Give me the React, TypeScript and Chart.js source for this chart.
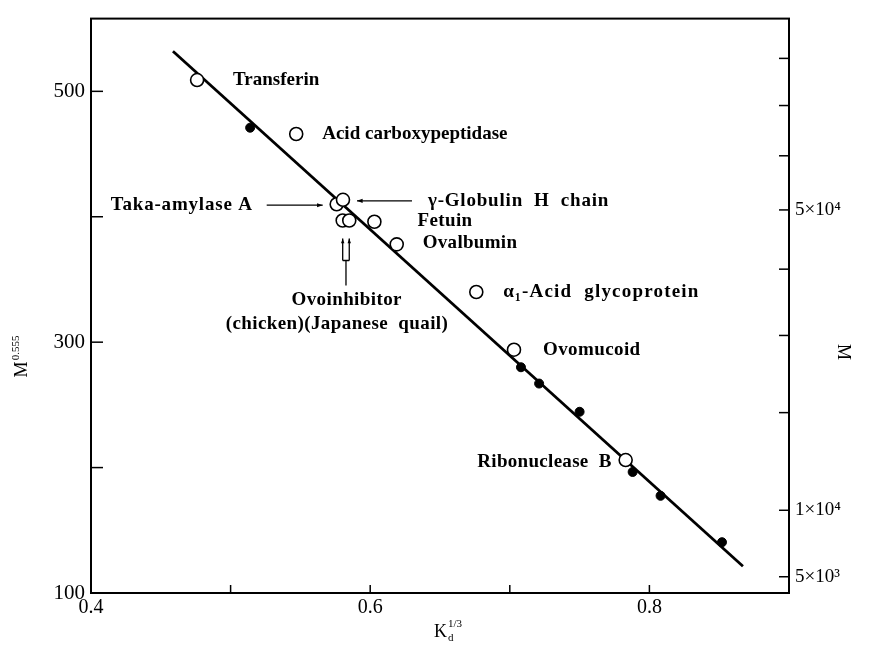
import React, { useEffect, useRef } from 'react';
import { Chart, registerables } from 'chart.js';

Chart.register(...registerables);

// ---- data (Kd^1/3 on x, M^0.555 on y) ----
const openNames = [
  'Transferin',
  'Acid carboxypeptidase',
  'Taka-amylase A',
  'γ-Globulin H chain',
  'Ovoinhibitor (chicken)',
  'Ovoinhibitor (Japanese quail)',
  'Fetuin',
  'Ovalbumin',
  'α1-Acid glycoprotein',
  'Ovomucoid',
  'Ribonuclease B',
];
const openKd = [0.476, 0.547, 0.576, 0.5805, 0.5803, 0.585, 0.603, 0.619, 0.676, 0.703, 0.783];
const openM = [509, 466, 410, 413.5, 397, 397, 396, 378, 340, 294, 206];

const filledKd = [0.514, 0.708, 0.721, 0.75, 0.788, 0.808, 0.852];
const filledM = [471, 280, 267, 244.5, 196.5, 177.5, 140.5];

const fitKd = [0.4587, 0.867];
const fitM = [532, 121.3];

const xTickValues = [0.4, 0.6, 0.8];
const xTickMarks = [0.5, 0.6, 0.7, 0.8];
const yTickValues = [100, 300, 500];
const yTickMarks = [200, 300, 400, 500];

const EXPONENT = 0.555;
const rightLabelM = [5000, 10000, 50000];
const rightLabels = ['5×10³', '1×10⁴', '5×10⁴'];
const rightMarkM = [5000, 10000, 20000, 30000, 40000, 50000, 60000, 70000, 80000];

// ---- annotation texts, anchored to open-circle index ----
type Ann = { text: string; idx: number; dx: number; dy: number; align: CanvasTextAlign; ls: number };
const annotations: Ann[] = [
  { text: 'Transferin', idx: 0, dx: 36, dy: 0, align: 'left', ls: 0 },
  { text: 'Acid carboxypeptidase', idx: 1, dx: 26, dy: 0, align: 'left', ls: 0 },
  { text: 'Taka-amylase A', idx: 2, dx: -84, dy: 1, align: 'right', ls: 0.8 },
  { text: 'γ-Globulin  H  chain', idx: 3, dx: 85, dy: 1, align: 'left', ls: 0.8 },
  { text: 'Fetuin', idx: 6, dx: 43, dy: -1, align: 'left', ls: 0.4 },
  { text: 'Ovalbumin', idx: 7, dx: 26, dy: -1, align: 'left', ls: 0.3 },
  { text: 'α₁-Acid  glycoprotein', idx: 8, dx: 27, dy: 0, align: 'left', ls: 1.2 },
  { text: 'Ovomucoid', idx: 9, dx: 29, dy: 0, align: 'left', ls: 0.4 },
  { text: 'Ribonuclease  B', idx: 10, dx: -14, dy: 2, align: 'right', ls: 0.3 },
  { text: 'Ovoinhibitor', idx: 4, dx: 4, dy: 80, align: 'center', ls: 0.4 },
  { text: '(chicken)(Japanese  quail)', idx: 4, dx: -117, dy: 104, align: 'left', ls: 0.4 },
];

const SERIF = "'Liberation Serif', 'DejaVu Serif', serif";

function arrow(ctx: CanvasRenderingContext2D, x1: number, y1: number, x2: number, y2: number, head = 6) {
  ctx.beginPath();
  ctx.moveTo(x1, y1);
  ctx.lineTo(x2, y2);
  ctx.stroke();
  const a = Math.atan2(y2 - y1, x2 - x1);
  ctx.beginPath();
  ctx.moveTo(x2, y2);
  ctx.lineTo(x2 - head * Math.cos(a - 0.35), y2 - head * Math.sin(a - 0.35));
  ctx.lineTo(x2 - head * Math.cos(a + 0.35), y2 - head * Math.sin(a + 0.35));
  ctx.closePath();
  ctx.fill();
}

const overlay = {
  id: 'overlay',
  afterDraw(chart: any) {
    const ctx: any = chart.ctx;
    const { left, right, top, bottom } = chart.chartArea;
    const xs = chart.scales.x;
    const ys = chart.scales.y;
    ctx.save();
    ctx.strokeStyle = '#000';
    ctx.fillStyle = '#000';

    // frame
    ctx.lineWidth = 2;
    ctx.strokeRect(left, top, right - left, bottom - top);

    // inward ticks
    ctx.lineWidth = 1.5;
    yTickMarks.forEach((v) => {
      const y = ys.getPixelForValue(v);
      ctx.beginPath();
      ctx.moveTo(left, y);
      ctx.lineTo(left + 12, y);
      ctx.stroke();
    });
    xTickMarks.forEach((v) => {
      const x = xs.getPixelForValue(v);
      ctx.beginPath();
      ctx.moveTo(x, bottom);
      ctx.lineTo(x, bottom - 8);
      ctx.stroke();
    });
    rightMarkM.forEach((m) => {
      const y = ys.getPixelForValue(Math.pow(m, EXPONENT));
      ctx.beginPath();
      ctx.moveTo(right, y);
      ctx.lineTo(right - 10, y);
      ctx.stroke();
    });

    // annotations
    ctx.font = `bold 19px ${SERIF}`;
    ctx.textBaseline = 'middle';
    const px = (i: number) => xs.getPixelForValue(openKd[i]);
    const py = (i: number) => ys.getPixelForValue(openM[i]);
    annotations.forEach((a) => {
      ctx.letterSpacing = `${a.ls}px`;
      ctx.textAlign = a.align;
      ctx.fillText(a.text, px(a.idx) + a.dx, py(a.idx) + a.dy);
    });
    ctx.letterSpacing = '0px';

    // arrows
    ctx.lineWidth = 1.3;
    arrow(ctx, px(2) - 70, py(2) + 1, px(2) - 14, py(2) + 1);
    arrow(ctx, px(3) + 69, py(3) + 1, px(3) + 14, py(3) + 1);
    const cx = px(4), qx = px(5), cy = py(4);
    const mid = (cx + qx) / 2;
    arrow(ctx, cx, cy + 40, cx, cy + 18, 5);
    arrow(ctx, qx, cy + 40, qx, cy + 18, 5);
    ctx.beginPath();
    ctx.moveTo(cx, cy + 40);
    ctx.lineTo(qx, cy + 40);
    ctx.moveTo(mid, cy + 40);
    ctx.lineTo(mid, cy + 65);
    ctx.stroke();

    // axis titles
    ctx.textAlign = 'left';
    ctx.textBaseline = 'alphabetic';
    // left: M^0.555
    ctx.save();
    ctx.translate(27, 357);
    ctx.rotate(-Math.PI / 2);
    ctx.font = `18px ${SERIF}`;
    const wM = ctx.measureText('M').width;
    ctx.font = `11px ${SERIF}`;
    const wE = ctx.measureText('0.555').width;
    const start = -(wM + wE) / 2;
    ctx.font = `18px ${SERIF}`;
    ctx.fillText('M', start, 0);
    ctx.font = `11px ${SERIF}`;
    ctx.fillText('0.555', start + wM + 1, -8);
    ctx.restore();

    // right: M
    ctx.save();
    ctx.translate(838, 352);
    ctx.rotate(Math.PI / 2);
    ctx.font = `18px ${SERIF}`;
    ctx.textAlign = 'center';
    ctx.fillText('M', 0, 0);
    ctx.restore();

    // bottom: Kd^1/3
    ctx.font = `18px ${SERIF}`;
    const wK = ctx.measureText('K').width;
    const kx = 434;
    ctx.fillText('K', kx, 637);
    ctx.font = `11px ${SERIF}`;
    ctx.fillText('d', kx + wK + 1, 641);
    ctx.fillText('1/3', kx + wK + 1, 627);

    ctx.restore();
  },
};

export default function App() {
  const ref = useRef<HTMLCanvasElement | null>(null);

  useEffect(() => {
    if (!ref.current) return;
    const chart = new Chart(ref.current, {
      type: 'scatter',
      data: {
        datasets: [
          {
            label: 'native',
            data: openKd.map((x, i) => ({ x, y: openM[i] })),
            pointStyle: 'circle',
            pointRadius: 6.5,
            pointBackgroundColor: '#fff',
            pointBorderColor: '#000',
            pointBorderWidth: 1.6,
            order: 0,
          } as any,
          {
            label: 'standard',
            data: filledKd.map((x, i) => ({ x, y: filledM[i] })),
            pointStyle: 'circle',
            pointRadius: 4.5,
            pointBackgroundColor: '#000',
            pointBorderColor: '#000',
            pointBorderWidth: 1,
            order: 1,
          } as any,
          {
            type: 'line',
            label: 'fit',
            data: fitKd.map((x, i) => ({ x, y: fitM[i] })),
            borderColor: '#000',
            borderWidth: 2.8,
            pointRadius: 0,
            fill: false,
            tension: 0,
            order: 2,
          } as any,
        ],
      },
      options: {
        responsive: false,
        animation: false,
        events: [],
        layout: { padding: { top: 13, left: 0, right: 0, bottom: 0 } },
        plugins: { legend: { display: false }, tooltip: { enabled: false } },
        scales: {
          x: {
            type: 'linear',
            position: 'bottom',
            min: 0.4,
            max: 0.9,
            grid: { display: false, drawTicks: false, tickLength: 0 },
            border: { display: false },
            afterBuildTicks: (s: any) => {
              s.ticks = xTickValues.map((v) => ({ value: v }));
            },
            afterFit: (s: any) => {
              s.height = 52;
            },
            ticks: {
              callback: (v: any) => Number(v).toFixed(1),
              font: { family: SERIF, size: 20 },
              color: '#000',
              padding: 3,
              maxRotation: 0,
              autoSkip: false,
            },
          },
          y: {
            type: 'linear',
            position: 'left',
            min: 100,
            max: 558,
            grid: { display: false, drawTicks: false, tickLength: 0 },
            border: { display: false },
            afterBuildTicks: (s: any) => {
              s.ticks = yTickValues.map((v) => ({ value: v }));
            },
            afterFit: (s: any) => {
              s.width = 91;
            },
            ticks: {
              callback: (v: any) => String(v),
              font: { family: SERIF, size: 21 },
              color: '#000',
              padding: 6,
              autoSkip: false,
            },
          },
          y2: {
            type: 'linear',
            position: 'right',
            min: 100,
            max: 558,
            grid: { display: false, drawTicks: false, tickLength: 0 },
            border: { display: false },
            afterBuildTicks: (s: any) => {
              s.ticks = rightLabelM.map((m) => ({ value: Math.pow(m, EXPONENT) }));
            },
            afterFit: (s: any) => {
              s.width = 84;
            },
            ticks: {
              callback: (_v: any, i: number) => rightLabels[i],
              font: { family: SERIF, size: 19 },
              color: '#000',
              padding: 6,
              autoSkip: false,
            },
          },
        },
      } as any,
      plugins: [overlay],
    });
    return () => chart.destroy();
  }, []);

  return (
    <div style={{ position: 'absolute', left: 0, top: 0, width: 873, height: 645, background: '#fff' }}>
      <canvas ref={ref} width={873} height={645} style={{ display: 'block' }} />
    </div>
  );
}
